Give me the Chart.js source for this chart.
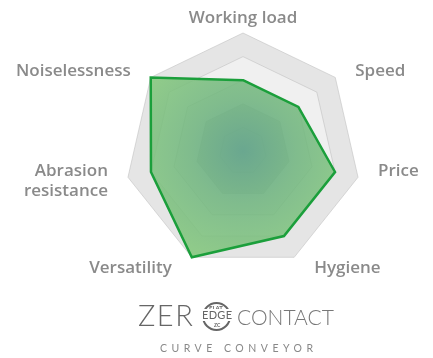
<!DOCTYPE html>
<html>
<head>
<meta charset="utf-8">
<script src="https://cdn.jsdelivr.net/npm/chart.js@4"></script>
<style>
  html, body { margin: 0; padding: 0; background: #fff; }
  #wrap { position: relative; width: 433px; height: 358px; overflow: hidden; }
  #chartBox { position: absolute; left: 0; top: 0; width: 433px; height: 300px; }
  .logo { position: absolute; font-family: Lato, "Open Sans", sans-serif; font-weight: 300; white-space: nowrap; }
  #zer { left: 138px; top: 297px; font-size: 29px; color: #666; letter-spacing: 1.5px; }
  #ring { left: 202px; top: 302px; width: 25px; height: 25px; border: 2px solid #666; border-radius: 50%; }
  #flat { left: 209px; top: 304px; font-size: 6px; color: #666; font-weight: 700; }
  #edge { left: 201px; top: 309px; font-size: 11px; color: #666; font-weight: 400; letter-spacing: 0.3px; background: #fff; padding: 0 1px; line-height: 12px; }
  #zc { left: 214px; top: 322px; font-size: 5px; color: #666; font-weight: 700; }
  #contact { left: 237px; top: 304px; font-size: 21px; color: #777; }
  #curve { left: 160px; top: 342px; font-size: 10.5px; color: #888; letter-spacing: 4.5px; font-weight: 400; }
</style>
</head>
<body>
<div id="wrap">
  <div id="chartBox"><canvas id="radar"></canvas></div>
  <div class="logo" id="zer">ZER</div>
  <div class="logo" id="ring"></div>
  <div class="logo" id="flat">FLAT</div>
  <div class="logo" id="edge">EDGE</div>
  <div class="logo" id="zc">ZC</div>
  <div class="logo" id="contact">CONTACT</div>
  <div class="logo" id="curve">CURVE CONVEYOR</div>
</div>
<script>
const labels = ['Working load', 'Speed', 'Price', 'Hygiene', 'Versatility', ['Abrasion', 'resistance'], 'Noiselessness'];
const scores = [60, 60, 80, 80, 100, 80, 100];
const bandLevels = [100, 80, 60, 40];
const bandColors = ['#e5e5e5', '#f0f0f0', '#e9e9e9', '#d0d0d0'];

// grey rings behind the grid lines
const bandPlugin = {
    id: 'bands',
    beforeDraw(chart) {
        const scale = chart.scales.r;
        const ctx = chart.ctx;
        const n = chart.data.labels.length;
        ctx.save();
        bandLevels.forEach((level, b) => {
            ctx.beginPath();
            for (let i = 0; i < n; i++) {
                const p = scale.getPointPositionForValue(i, level);
                if (i === 0) ctx.moveTo(p.x, p.y); else ctx.lineTo(p.x, p.y);
            }
            ctx.closePath();
            ctx.fillStyle = bandColors[b];
            ctx.fill();
        });
        ctx.restore();
    }
};

// axis names placed beside the outer ring corners
const labelPlugin = {
    id: 'axisNames',
    afterDraw(chart) {
        const scale = chart.scales.r;
        const ctx = chart.ctx;
        const R = scale.drawingArea;
        ctx.save();
        ctx.font = '600 17px "Open Sans", sans-serif';
        ctx.fillStyle = '#8a8a8a';
        ctx.textBaseline = 'middle';
        chart.data.labels.forEach((lab, i) => {
            const lines = Array.isArray(lab) ? lab : [lab];
            const p = scale.getPointPosition(i, R);
            const dx = p.x - scale.xCenter;
            let x = p.x, y;
            if (Math.abs(dx) < 1) {
                ctx.textAlign = 'center';
                y = p.y - 15;
            } else {
                ctx.textAlign = dx > 0 ? 'left' : 'right';
                x = p.x + (dx > 0 ? 20 : -20);
                y = p.y + (p.y - scale.yCenter > R * 0.5 ? 11 : -6);
            }
            lines.forEach((t, k) => ctx.fillText(t, x, y + k * 20));
        });
        ctx.restore();
    }
};

function greenFill(context) {
    const chart = context.chart;
    const scale = chart.scales.r;
    if (!scale || !scale.drawingArea) return 'rgba(120,190,120,0.8)';
    const g = chart.ctx.createRadialGradient(scale.xCenter, scale.yCenter, 0, scale.xCenter, scale.yCenter, scale.drawingArea);
    g.addColorStop(0, 'rgba(88,160,132,0.85)');
    g.addColorStop(0.45, 'rgba(110,180,125,0.85)');
    g.addColorStop(1, 'rgba(134,201,125,0.88)');
    return g;
}

new Chart(document.getElementById('radar'), {
    type: 'radar',
    data: {
        labels: labels,
        datasets: [{
            data: scores,
            borderColor: '#1b9f3b',
            borderWidth: 2.5,
            backgroundColor: greenFill,
            fill: true,
            pointRadius: 0,
            pointHoverRadius: 0
        }]
    },
    options: {
        responsive: true,
        maintainAspectRatio: false,
        animation: false,
        layout: { padding: { top: 33, bottom: 31, left: 125, right: 72 } },
        scales: {
            r: {
                min: 0,
                max: 100,
                startAngle: 0,
                ticks: { display: false, stepSize: 20 },
                grid: { color: 'rgba(190,190,190,0.55)', lineWidth: 1 },
                angleLines: { display: false },
                pointLabels: { display: false }
            }
        },
        plugins: {
            legend: { display: false },
            tooltip: { enabled: false }
        }
    },
    plugins: [bandPlugin, labelPlugin]
});
</script>
</body>
</html>
